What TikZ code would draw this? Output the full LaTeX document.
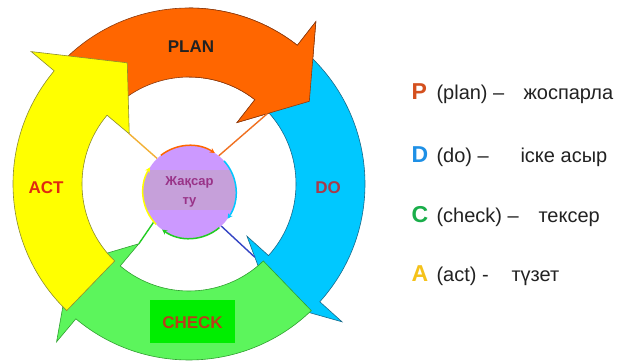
\documentclass[tikz,border=0pt]{standalone}
\usepackage{fontspec}
\setmainfont{Liberation Sans}
\usetikzlibrary{arrows.meta,calc}
\definecolor{orng}{HTML}{FF6600}
\definecolor{orngd}{HTML}{8A3A10}
\definecolor{cyanb}{HTML}{00C8FF}
\definecolor{cyanbd}{HTML}{1A6A8A}
\definecolor{grn}{HTML}{5CF55C}
\definecolor{grnd}{HTML}{30A030}
\definecolor{ylw}{HTML}{FFFF00}
\definecolor{ylwd}{HTML}{8C8C30}
\definecolor{boxgrn}{HTML}{00EE00}
\definecolor{lav}{HTML}{CC99FF}
\definecolor{lavband}{HTML}{C6A0DA}
\definecolor{purp}{HTML}{993388}
\definecolor{actred}{HTML}{E02A10}
\definecolor{dored}{HTML}{A83A4A}
\definecolor{chkred}{HTML}{B83E1A}
\definecolor{Pcol}{HTML}{D4501E}
\definecolor{Dcol}{HTML}{1E90E6}
\definecolor{Ccol}{HTML}{1AAE4A}
\definecolor{Acol}{HTML}{F5C21A}
\definecolor{lnyl}{HTML}{F2B035}
\definecolor{lnor}{HTML}{F07020}
\definecolor{lnbl}{HTML}{3344C4}
\definecolor{lngr}{HTML}{22CC22}
\definecolor{txt}{HTML}{222222}
\newcommand\cyclearrow[5]{%
  \path[#1] (#2:176pt) arc[start angle=#2, end angle=#3, radius=176pt]
    -- (#3:206pt) -- (#4:#5) -- (#3:78pt) -- (#3:107pt)
    arc[start angle=#3, end angle=#2, radius=107pt] -- cycle;}
\begin{document}
\begin{tikzpicture}[x=1pt,y=1pt,
  ringlabel/.style={font=\bfseries\fontsize{17}{20}\selectfont},
  connline/.style={line width=1.4pt},
  smallarc/.style={line width=1.5pt,-{Stealth[length=5pt,width=5pt]}},
  legletter/.style={anchor=base west,font=\bfseries\fontsize{23}{26}\selectfont},
  legtext/.style={anchor=base west,font=\fontsize{20}{24}\selectfont,text=txt}]
\useasboundingbox (0,0) rectangle (619,361);
\fill[white] (0,0) rectangle (619,361);
% ring arrows
\begin{scope}[shift={(189,177)}]
  \cyclearrow{fill=orng,draw=orngd,line width=0.6pt}{136}{52}{34.5}{146pt}
  \cyclearrow{fill=cyanb,draw=cyanbd,line width=0.6pt}{47}{-42}{-55}{144pt}
  \cyclearrow{fill=grn,draw=grnd,line width=0.6pt}{-46}{-130}{-146}{143pt}
  \cyclearrow{fill=ylw,draw=ylwd,line width=0.6pt}{226}{140}{117}{136pt}
  \begin{scope}
    \clip (0,0) rectangle (230,200);
    \cyclearrow{fill=orng,draw=orngd,line width=0.6pt}{136}{52}{34.5}{146pt}
  \end{scope}
  \coordinate (yend) at (140:78pt);
  \coordinate (oend) at ($(52:78pt)!0.42!(34.5:146pt)$);
  \coordinate (bend) at ($(-42:78pt)!0.32!(-55:144pt)$);
  \coordinate (gend) at (230:78pt);
\end{scope}
% check box
\fill[boxgrn] (150,18) rectangle (235,61);
% labels
\node[ringlabel,text=txt] (plan) at (191,314) {PLAN};
\node[ringlabel,text=dored] (do) at (328,173) {DO};
\node[ringlabel,text=actred] (act) at (46,173) {ACT};
\node[ringlabel,text=chkred] (check) at (192.5,38) {CHECK};
% centre circle
\node[circle,minimum size=93pt,inner sep=0pt,fill=lav] (imp) at (189.5,169) {};
\begin{scope}
  \clip (imp.center) circle (46.5pt);
  \fill[lavband] (140,151) rectangle (240,191);
\end{scope}
\node[font=\bfseries\fontsize{13}{19}\selectfont,text=purp,align=center] (imptext) at (189.5,169) {Жақсар\\ту};
% connecting lines
\draw[connline,lnyl] (imp.134) -- (yend);
\draw[connline,lnor] (imp.51) -- (oend);
\draw[connline,lnbl] (imp.-47) -- (bend);
\draw[connline,lngr] (imp.-140) -- (gend);
% small arcs on the circle
\draw[smallarc,orng] (imp.center) ++(128:46.5pt) arc[start angle=128, end angle=57, radius=46.5pt];
\draw[smallarc,cyanb] (imp.center) ++(42:46.5pt) arc[start angle=42, end angle=-35, radius=46.5pt];
\draw[smallarc,lngr] (imp.center) ++(-50:46.5pt) arc[start angle=-50, end angle=-126, radius=46.5pt];
\draw[smallarc,ylw] (imp.center) ++(-136:46.5pt) arc[start angle=-136, end angle=-212, radius=46.5pt];
% legend
\node[legletter,text=Pcol] (lp) at (408,261) {P};
\node[legtext] (lpt) at (433,261) {(plan) –};
\node[legtext] (lpw) at (520,261) {жоспарла};
\node[legletter,text=Dcol] (ld) at (408,198) {D};
\node[legtext] (ldt) at (433,198) {(do) –};
\node[legtext] (ldw) at (517,198) {іске асыр};
\node[legletter,text=Ccol] (lc) at (408,138) {C};
\node[legtext] (lct) at (433,138) {(check) –};
\node[legtext] (lcw) at (535,138) {тексер};
\node[legletter,text=Acol] (la) at (408,79) {A};
\node[legtext] (lat) at (433,79) {(act) -};
\node[legtext] (law) at (508,79) {түзет};
\end{tikzpicture}
\end{document}
